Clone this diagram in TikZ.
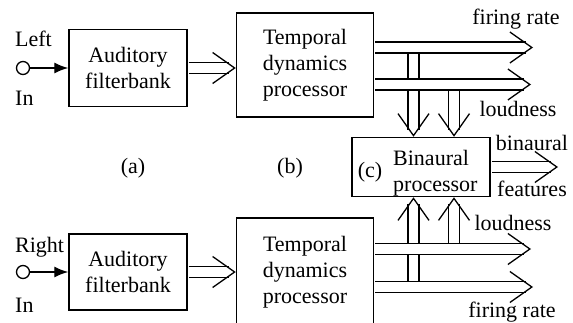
\documentclass[tikz,border=0pt]{standalone}
\usepackage{fontspec}
\setmainfont{Liberation Serif}
\usetikzlibrary{arrows.meta, positioning}

\begin{document}
\begin{tikzpicture}[
  x=1pt, y=1pt,
  font=\fontsize{22}{26}\selectfont,
  block/.style={rectangle, draw, line width=1.5pt, align=center, inner sep=0pt},
  port/.style={circle, draw, line width=1.3pt, minimum size=13pt, inner sep=0pt},
  % two parallel rails, open chevron at the end
  dbl/.style={line width=1.3pt, draw=white, shorten <=0.8pt,
    preaction={-, draw=black, double=white, double distance=9.5pt, shorten >=7pt},
    -{Straight Barb[length=22pt, width=31pt, color=black]}},
  inarr/.style={line width=1.3pt, -{Latex[length=14pt, width=11pt]}},
  lbl/.style={inner sep=0pt, anchor=base},
]
\useasboundingbox (0,0) rectangle (573,322);
\clip (0,0) rectangle (573,322);

% left channel
\node[block, minimum width=118pt, minimum height=77pt] (fbL) at (128,254) {Auditory\\filterbank};
\node[block, minimum width=137pt, minimum height=104pt, right=48pt of fbL, yshift=3pt] (tpL) {Temporal\\dynamics\\processor};
\node[port] (inL) at (23,254) {};
\node[lbl, anchor=base west] (txLeft) at (15,275) {Left};
\node[lbl, anchor=base west] (txInL) at (15,217) {In};

% right channel
\node[block, minimum width=118pt, minimum height=76pt] (fbR) at (128,50) {Auditory\\filterbank};
\node[block, minimum width=137pt, minimum height=108pt, right=48pt of fbR] (tpR) {Temporal\\dynamics\\processor};
\node[port] (inR) at (23,50) {};
\node[lbl, anchor=base west] (txRight) at (15,70) {Right};
\node[lbl, anchor=base west] (txInR) at (15,10) {In};

% binaural stage
\node[block, minimum width=138pt, minimum height=59pt] (bin) at (421,155) {};
\node[inner sep=0pt, anchor=west, align=left] (binTxt) at (393,149) {Binaural\\processor};
\node[lbl] (txC) at (370,144.5) {(c)};
\node[lbl] (txA) at (133,148.5) {(a)};
\node[lbl] (txB) at (290,148.5) {(b)};

% free ends of the outputs
\coordinate (frL) at (533,274.5);
\coordinate (ldL) at (531,237.5);
\coordinate (ldR) at (531,73);
\coordinate (frR) at (533,35);
\coordinate (binOut) at (558,155);
\coordinate (tapA) at ([xshift=-7.5pt]bin.north);
\coordinate (tapB) at ([xshift=33pt]bin.north);
\coordinate (tapC) at ([xshift=-7.5pt]bin.south);
\coordinate (tapD) at ([xshift=33pt]bin.south);

\draw[inarr] (inL) -- (fbL);
\draw[inarr] (inR) -- (fbR);
\draw[dbl] (fbL.east) -- (fbL.east -| tpL.west);
\draw[dbl] (fbR.east) -- (fbR.east -| tpR.west);

% taps into the binaural processor
\draw[dbl] (tapA |- frL) -- (tapA);
\draw[dbl] (tapB |- ldL) -- (tapB);
\draw[dbl] (tapC |- frR) -- (tapC);
\draw[dbl] (tapD |- ldR) -- (tapD);

\draw[dbl] (tpL.east |- frL) -- (frL);
\draw[dbl] (tpL.east |- ldL) -- (ldL);
\draw[dbl] (tpR.east |- ldR) -- (ldR);
\draw[dbl] (tpR.east |- frR) -- (frR);
\draw[dbl] (bin.east) -- (binOut);

\node[lbl] (txFrL) at (516,297) {firing rate};
\node[lbl] (txLdL) at (518,205) {loudness};
\node[lbl] (txBin) at (532,172) {binaural};
\node[lbl] (txFeat) at (532,126) {features};
\node[lbl] (txLdR) at (513,92) {loudness};
\node[lbl] (txFrR) at (512,5) {firing rate};
\end{tikzpicture}
\end{document}
